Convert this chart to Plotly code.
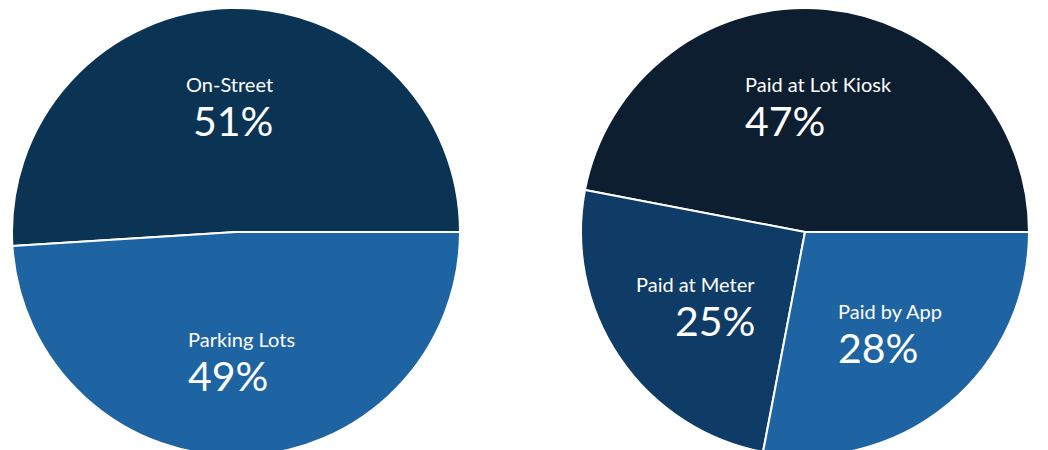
import plotly.graph_objects as go

# Data
left_labels = ["On-Street", "Parking Lots"]
left_values = [51, 49]
right_labels = ["Paid at Lot Kiosk", "Paid at Meter", "Paid by App"]
right_values = [47, 25, 28]

left_colors = ["#0b3454", "#1e63a2"]
right_colors = ["#0d1e30", "#0f3c66", "#1e63a2"]

W, H = 1048, 450
OFF = 8  # page body margin in the browser


def px_x(x):
    return (x - OFF) / W


def px_y(y):
    return 1 - (y - OFF) / H


def dom(cx, cy, r):
    return dict(x=[px_x(cx - r), px_x(cx + r)], y=[max(0, px_y(cy + r)), min(1, px_y(cy - r))])


def start_rotation(values):
    # counterclockwise pies in plotly place the first slice clockwise of 'rotation';
    # choose rotation so the first slice begins at 3 o'clock and runs counterclockwise
    return 90 - 360 * values[0] / sum(values)


fig = go.Figure()
fig.add_trace(go.Pie(
    labels=left_labels, values=left_values, sort=False, direction="counterclockwise",
    rotation=start_rotation(left_values), textinfo="none", hoverinfo="label+percent",
    marker=dict(colors=left_colors, line=dict(color="white", width=2)),
    domain=dom(236, 232, 224), showlegend=False,
))
fig.add_trace(go.Pie(
    labels=right_labels, values=right_values, sort=False, direction="counterclockwise",
    rotation=start_rotation(right_values), textinfo="none", hoverinfo="label+percent",
    marker=dict(colors=right_colors, line=dict(color="white", width=2)),
    domain=dom(805, 232, 224), showlegend=False,
))

# label placement in screen pixels: (x, boundary y between name and percent, xanchor)
positions = {
    "On-Street": (274, 97, "right"),
    "Parking Lots": (187, 352, "left"),
    "Paid at Lot Kiosk": (744, 97, "left"),
    "Paid at Meter": (756, 297, "right"),
    "Paid by App": (837, 324, "left"),
}

annotations = []
for labels, values in [(left_labels, left_values), (right_labels, right_values)]:
    for lab, val in zip(labels, values):
        x, yb, xa = positions[lab]
        annotations.append(dict(
            text=lab, x=px_x(x), y=px_y(yb), xref="paper", yref="paper",
            xanchor=xa, yanchor="bottom", showarrow=False, borderpad=0,
            font=dict(family="Lato", size=20, color="white"),
        ))
        annotations.append(dict(
            text=f"{val}%", x=px_x(x), y=px_y(yb - 2), xref="paper", yref="paper",
            xanchor=xa, yanchor="top", showarrow=False, borderpad=0,
            font=dict(family="Lato", size=41, color="white"),
        ))

fig.update_layout(
    width=W, height=H, margin=dict(l=0, r=0, t=0, b=0),
    paper_bgcolor="white", plot_bgcolor="white",
    annotations=annotations,
)

fig.write_html("out.html")
